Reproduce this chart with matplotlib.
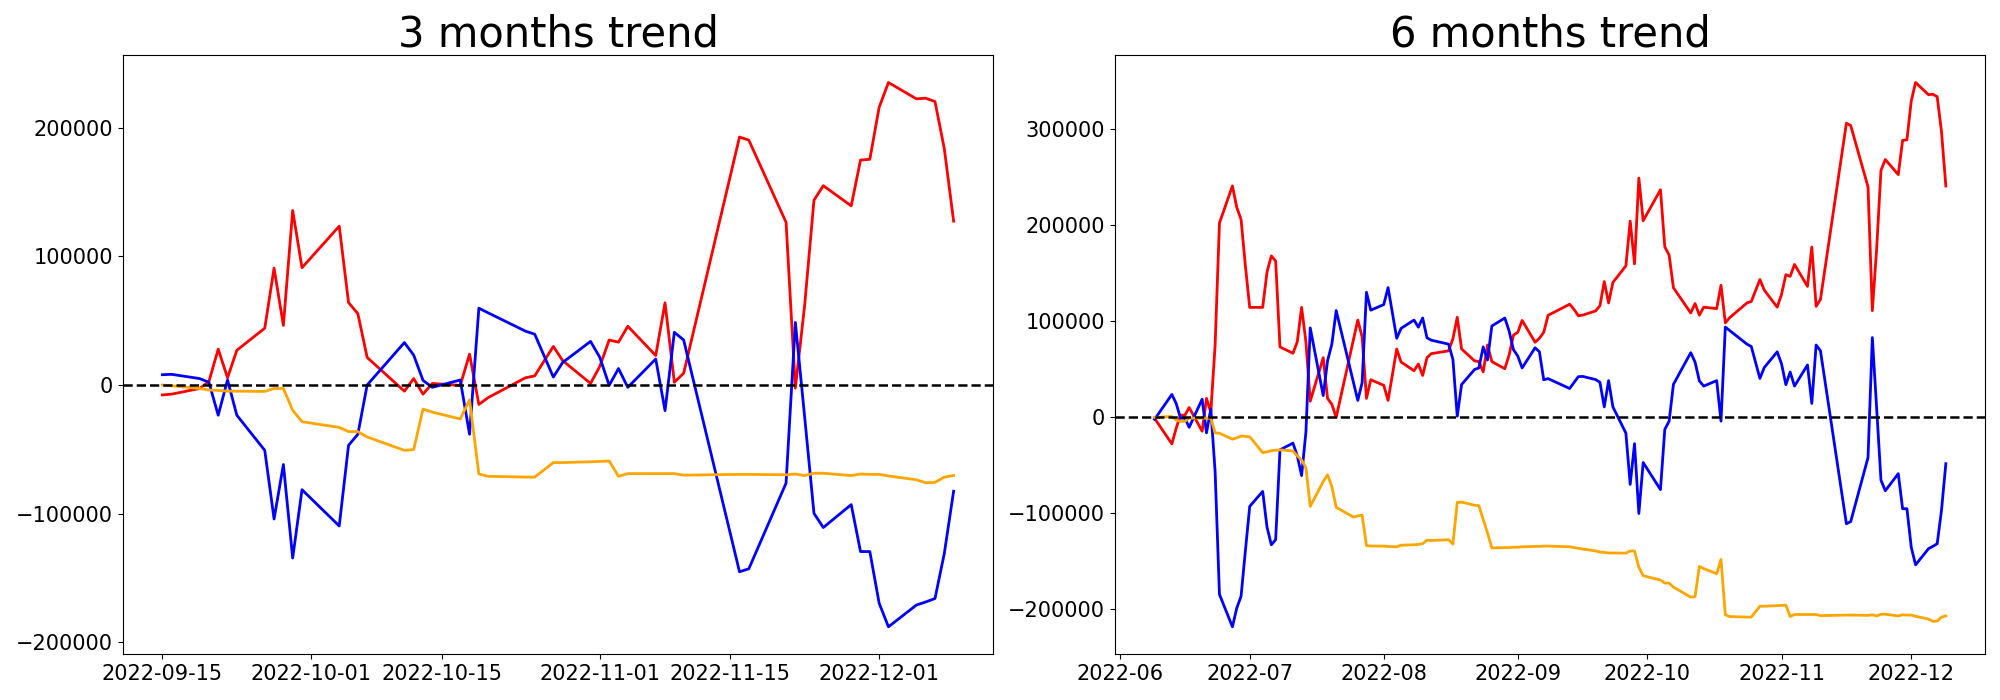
import pandas as pd
import matplotlib
matplotlib.use("Agg")
import matplotlib.pyplot as plt

# 3 months (cumulative net buying)
dates_3m = ["2022-09-15", "2022-09-16", "2022-09-19", "2022-09-20", "2022-09-21", "2022-09-22", "2022-09-23",
            "2022-09-26", "2022-09-27", "2022-09-28", "2022-09-29", "2022-09-30", "2022-10-04", "2022-10-05",
            "2022-10-06", "2022-10-07", "2022-10-11", "2022-10-12", "2022-10-13", "2022-10-14", "2022-10-17",
            "2022-10-18", "2022-10-19", "2022-10-20", "2022-10-24", "2022-10-25", "2022-10-27", "2022-10-28",
            "2022-10-31", "2022-11-01", "2022-11-02", "2022-11-03", "2022-11-04", "2022-11-07", "2022-11-08",
            "2022-11-09", "2022-11-10", "2022-11-16", "2022-11-17", "2022-11-21", "2022-11-22", "2022-11-23",
            "2022-11-24", "2022-11-25", "2022-11-28", "2022-11-29", "2022-11-30", "2022-12-01", "2022-12-02",
            "2022-12-05", "2022-12-06", "2022-12-07", "2022-12-08", "2022-12-09"]
red_3m = [-7700, -7100, -2700, 2700, 27900, 5600, 27000, 44200, 90900, 46300, 135700, 91200, 123500, 64100,
          55500, 21400, -4800, 5000, -7100, 1200, -300, 24000, -15100, -9800, 5600, 7100, 30000, 19000,
          1200, 14600, 35000, 33300, 45700, 22900, 63900, 2100, 9200, 192800, 190400, 126500, -2400, 62100,
          143700, 155000, 139300, 174900, 175500, 215900, 235200, 222500, 223000, 220400, 183800, 127400]
blue_3m = [8000, 8300, 5000, 2100, -23500, 3900, -23500, -50800, -104200, -61800, -134500, -81400, -109600, -46900,
           -38300, 0, 33000, 23200, 3600, -1800, 3900, -38300, 59700, 56100, 41900, 39500, 6200, 17500,
           33900, 21400, -300, 12800, -1800, 20200, -19900, 41000, 35000, -145200, -142900, -76300, 48700, -25000,
           -99800, -110800, -93000, -129500, -129500, -169600, -188000, -171100, -168700, -166000, -131000, -82600]
orange_3m = [0, -600, -2700, -3900, -4200, -4800, -4800, -5000, -2700, -2700, -19600, -28500, -33000, -36200,
             -36200, -40400, -50800, -50200, -18700, -21100, -26400, -11600, -69200, -71000, -71600, -71600, -60300, -60300,
             -59700, -59400, -59100, -71000, -68900, -68900, -68900, -68900, -70100, -69500, -69500, -69800, -69200, -70400,
             -68600, -68600, -70400, -69200, -69500, -69500, -70700, -73700, -76000, -75700, -71600, -70400]

# 6 months
dates_6m = ["2022-06-09", "2022-06-13", "2022-06-14", "2022-06-15", "2022-06-16", "2022-06-17", "2022-06-20",
            "2022-06-21", "2022-06-22", "2022-06-23", "2022-06-24", "2022-06-27", "2022-06-28", "2022-06-29",
            "2022-06-30", "2022-07-01", "2022-07-04", "2022-07-05", "2022-07-06", "2022-07-07", "2022-07-08",
            "2022-07-11", "2022-07-12", "2022-07-13", "2022-07-14", "2022-07-15", "2022-07-18", "2022-07-19",
            "2022-07-20", "2022-07-21", "2022-07-25", "2022-07-26", "2022-07-27", "2022-07-28", "2022-07-29",
            "2022-08-01", "2022-08-02", "2022-08-04", "2022-08-05", "2022-08-08", "2022-08-09", "2022-08-10",
            "2022-08-11", "2022-08-12", "2022-08-16", "2022-08-17", "2022-08-18", "2022-08-19", "2022-08-22",
            "2022-08-23", "2022-08-24", "2022-08-25", "2022-08-26", "2022-08-29", "2022-08-30", "2022-08-31",
            "2022-09-01", "2022-09-02", "2022-09-05", "2022-09-06", "2022-09-07", "2022-09-08", "2022-09-13",
            "2022-09-14"] + dates_3m
red_6m = [-1000, -27600, -11100, 2500, 2100, 10300, -14400, 19800, 5400, 75400, 202400, 241100, 218900, 206100,
          157900, 114600, 114600, 151300, 168200, 162800, 73400, 66800, 78700, 114600, 78700, 16900, 62200, 19800,
          13600, 0, 81200, 101400, 83700, 19800, 39200, 33400, 17700, 71300, 57700, 48600, 55600, 43700,
          62200, 66400, 69300, 82000, 104300, 71300, 58900, 58100, 47400, 75400, 58100, 50700, 65100, 85700,
          88600, 101000, 78300, 82400, 88600, 106300, 117900, 112500,
          105900, 106500, 110900, 116300, 141500, 119200, 140600, 157800, 204500, 159900, 249300, 204800, 237100, 177700,
          169100, 135000, 108800, 118600, 106500, 114800, 113300, 137600, 98500, 103800, 119200, 120700, 143600, 132600,
          114800, 128200, 148600, 146900, 159300, 136500, 177500, 115700, 122800, 306400, 304000, 240100, 111200, 175700,
          257300, 268600, 252900, 288500, 289100, 329500, 348800, 336100, 336600, 334000, 297400, 241000]
blue_6m = [-2000, 23900, 14400, -800, -800, -10300, 19000, -16100, 8700, -56500, -184300, -218100, -198700, -186300,
           -138900, -92700, -77100, -114200, -132700, -127400, -33800, -26800, -40000, -60600, -15300, 93200, 22700, 58900,
           76300, 111300, 36300, 17700, 36300, 130300, 111700, 117500, 135200, 82400, 92700, 101400, 94000, 103500,
           82900, 80400, 76300, 60200, 1200, 34200, 49900, 51500, 73400, 59800, 95200, 103500, 89900, 70500,
           63900, 51500, 72500, 68400, 39200, 40400, 30100, 36300,
           42400, 42700, 39400, 36500, 10900, 38300, 10900, -16400, -69800, -27400, -100100, -47000, -75200, -12500,
           -3900, 34400, 67400, 57600, 38000, 32600, 38300, -3900, 94100, 90500, 76300, 73900, 40600, 51900,
           68300, 55800, 34100, 47200, 32600, 54600, 14500, 75400, 69400, -110800, -108500, -41900, 83100, 9400,
           -65400, -76400, -58600, -95100, -95100, -135200, -153600, -136700, -134300, -131600, -96600, -48200]
orange_6m = [0, 1000, -2900, -4100, -4100, -800, -800, -800, -800, -16100, -16500, -22700, -21400, -19400,
             -19800, -20200, -36700, -35900, -34600, -34200, -33800, -35000, -40000, -44300, -52600, -92700, -66800, -59800,
             -72100, -93600, -103900, -102600, -101800, -133600, -134000, -134000, -134400, -134800, -133100, -132700, -132300, -131500,
             -127800, -128200, -127400, -131900, -88600, -88200, -91500, -91900, -106300, -120400, -136000, -135600, -135600, -135200,
             -135200, -134800, -134400, -134400, -134000, -134000, -134800, -135600,
             -136400, -137000, -139100, -140300, -140600, -141200, -141200, -141400, -139100, -139100, -156000, -164900, -169400, -172600,
             -172600, -176800, -187200, -186600, -155100, -157500, -162800, -148000, -205600, -207400, -208000, -208000, -196700, -196700,
             -196100, -195800, -195500, -207400, -205300, -205300, -205300, -205300, -206500, -205900, -205900, -206200, -205600, -206800,
             -205000, -205000, -206800, -205600, -205900, -205900, -207100, -210100, -212400, -212100, -208000, -206800]

fig, axes = plt.subplots(1, 2, figsize=(20, 7), dpi=100)
plt.subplots_adjust(left=0.0614, right=0.9927, bottom=0.0657, top=0.921, wspace=0.14)

panels = [(axes[0], dates_3m, red_3m, blue_3m, orange_3m, "3 months trend"),
          (axes[1], dates_6m, red_6m, blue_6m, orange_6m, "6 months trend")]
for ax, d, r, b, o, title in panels:
    x = pd.to_datetime(d)
    ax.plot(x, r, color="red", linewidth=2)
    ax.plot(x, b, color="blue", linewidth=2)
    ax.plot(x, o, color="orange", linewidth=2)
    ax.axhline(0, color="black", linestyle="--", linewidth=1.8)
    ax.set_title(title, fontsize=30)
    ax.tick_params(labelsize=15)

plt.savefig("out.png")
